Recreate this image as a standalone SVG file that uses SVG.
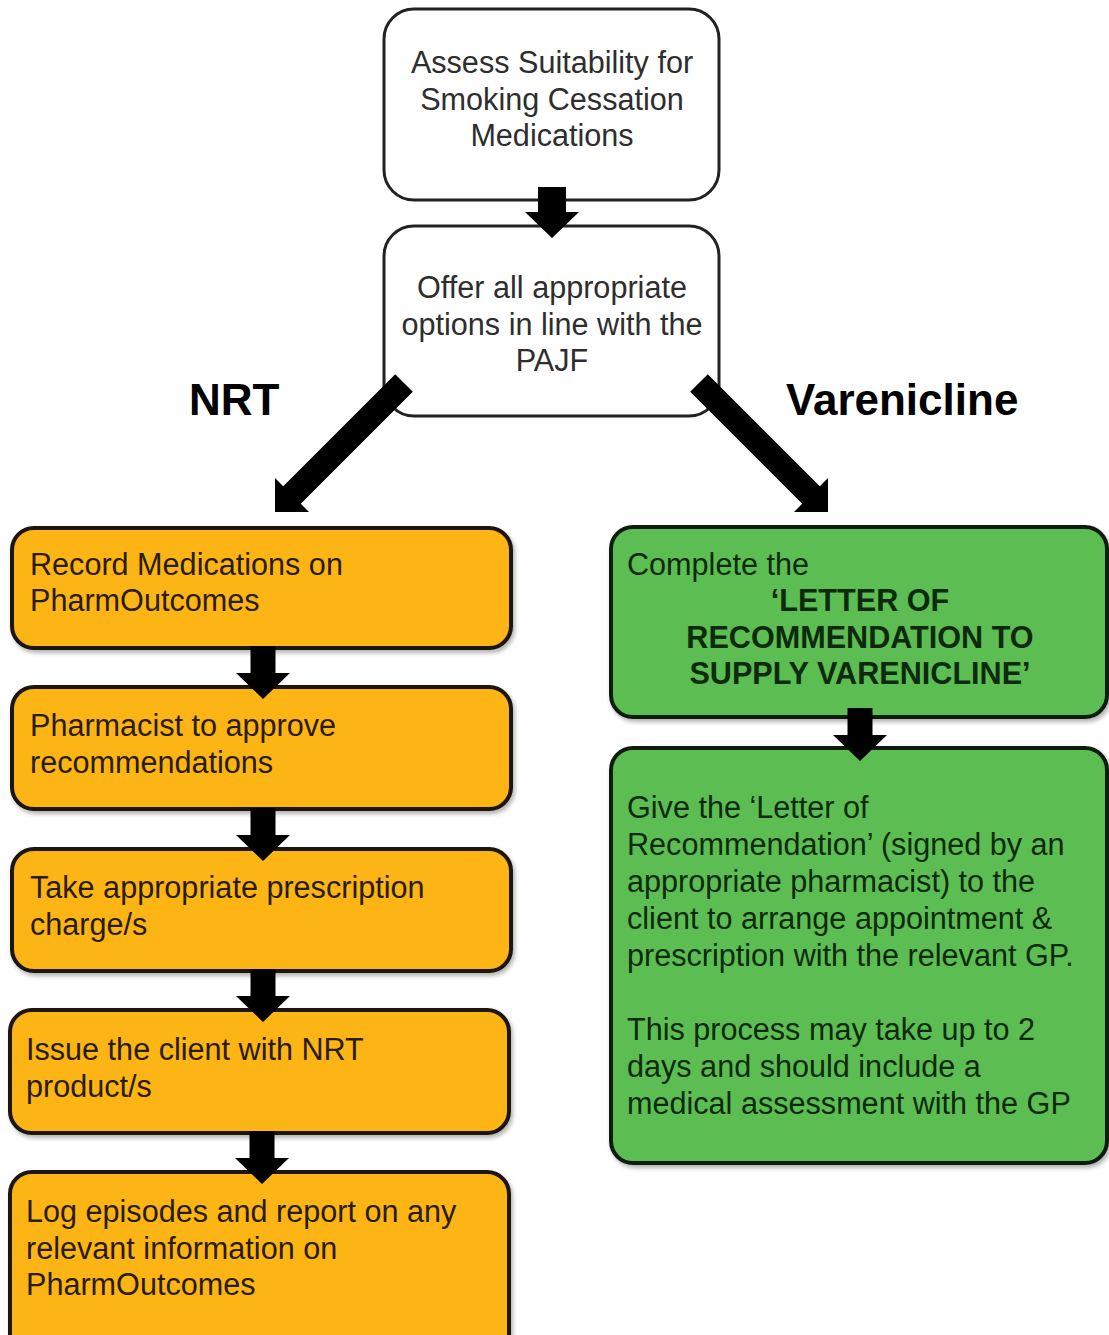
<svg xmlns="http://www.w3.org/2000/svg" width="1109" height="1335" viewBox="0 0 1109 1335">
<defs>
<filter id="sh" x="-5%" y="-5%" width="110%" height="115%">
<feDropShadow dx="2" dy="3" stdDeviation="2" flood-color="#000" flood-opacity="0.3"/>
</filter>
</defs>
<style>
.wbox{fill:#ffffff;stroke:#222222;stroke-width:3}
.obox{fill:#FDB515;stroke:#1a1208;stroke-width:4;filter:url(#sh)}
.gbox{fill:#5CBD52;stroke:#0f1f0f;stroke-width:4;filter:url(#sh)}
.t{font-family:"Liberation Sans",Arial,sans-serif;font-size:30.6px}
.tw{fill:#2e2e2e}
.to{fill:#2a1c02}
.tg{fill:#0e2a0c}
.c{text-anchor:middle}
.b{font-weight:bold}
.lbl{font-family:"Liberation Sans",Arial,sans-serif;font-size:44px;font-weight:bold;fill:#000}
.arr{fill:#000}
</style>
<g id="assess">
<rect class="wbox" x="384" y="9" width="335" height="191" rx="30"/>
<text class="t tw c" x="552" y="73">Assess Suitability for</text>
<text class="t tw c" x="552" y="110">Smoking Cessation</text>
<text class="t tw c" x="552" y="146">Medications</text>
</g>
<g id="offer">
<rect class="wbox" x="384" y="226" width="335" height="190" rx="30"/>
<text class="t tw c" x="552" y="298">Offer all appropriate</text>
<text class="t tw c" x="552" y="335">options in line with the</text>
<text class="t tw c" x="552" y="371">PAJF</text>
</g>
<g id="label-nrt">
<text class="lbl" x="189" y="415">NRT</text>
</g>
<g id="label-varenicline">
<text class="lbl" x="786" y="415">Varenicline</text>
</g>
<g id="record">
<rect class="obox" x="12" y="528" width="499" height="120" rx="22"/>
<text class="t to" x="30" y="575">Record Medications on</text>
<text class="t to" x="30" y="611">PharmOutcomes</text>
</g>
<g id="approve">
<rect class="obox" x="12" y="687" width="499" height="122" rx="22"/>
<text class="t to" x="30" y="736">Pharmacist to approve</text>
<text class="t to" x="30" y="773">recommendations</text>
</g>
<g id="charge">
<rect class="obox" x="12" y="849" width="499" height="122" rx="22"/>
<text class="t to" x="30" y="898">Take appropriate prescription</text>
<text class="t to" x="30" y="935">charge/s</text>
</g>
<g id="issue">
<rect class="obox" x="10" y="1010" width="499" height="123" rx="22"/>
<text class="t to" x="26" y="1060">Issue the client with NRT</text>
<text class="t to" x="26" y="1097">product/s</text>
</g>
<g id="log">
<rect class="obox" x="10" y="1172" width="499" height="185" rx="22"/>
<text class="t to" x="26" y="1222">Log episodes and report on any</text>
<text class="t to" x="26" y="1259">relevant information on</text>
<text class="t to" x="26" y="1295">PharmOutcomes</text>
</g>
<g id="letter">
<rect class="gbox" x="611" y="527" width="496" height="190" rx="22"/>
<text class="t tg" x="627" y="575">Complete the</text>
<text class="t tg c b" x="860" y="611">‘LETTER OF</text>
<text class="t tg c b" x="860" y="648">RECOMMENDATION TO</text>
<text class="t tg c b" x="860" y="684">SUPPLY VARENICLINE’</text>
</g>
<g id="give">
<rect class="gbox" x="611" y="748" width="496" height="415" rx="22"/>
<text class="t tg" x="627" y="818">Give the ‘Letter of</text>
<text class="t tg" x="627" y="855">Recommendation’ (signed by an</text>
<text class="t tg" x="627" y="892">appropriate pharmacist) to the</text>
<text class="t tg" x="627" y="929">client to arrange appointment &amp;</text>
<text class="t tg" x="627" y="966">prescription with the relevant GP.</text>
<text class="t tg" x="627" y="1040">This process may take up to 2</text>
<text class="t tg" x="627" y="1077">days and should include a</text>
<text class="t tg" x="627" y="1114">medical assessment with the GP</text>
</g>
<g id="connectors">
<path class="arr" d="M538 187 H566 V212 H579 L552 238 L525 212 H538 Z"/>
<path class="arr" d="M395.2 374.2 L412.8 391.8 L300.8 503.8 L309 512 L275 512 L275 478 L283.2 486.2 Z"/>
<path class="arr" d="M707.8 374.2 L690.2 391.8 L802.2 503.8 L794 512 L828 512 L828 478 L819.8 486.2 Z"/>
<path class="arr" d="M250.5 646 H275.5 V673 H290 L263 699 L236 673 H250.5 Z"/>
<path class="arr" d="M250.5 808 H275.5 V835 H290 L263 861 L236 835 H250.5 Z"/>
<path class="arr" d="M250.5 969 H275.5 V996 H290 L263 1022 L236 996 H250.5 Z"/>
<path class="arr" d="M249.5 1131 H274.5 V1158 H289 L262 1184 L235 1158 H249.5 Z"/>
<path class="arr" d="M847.5 708 H872.5 V735 H887 L860 761 L833 735 H847.5 Z"/>
</g>
</svg>
